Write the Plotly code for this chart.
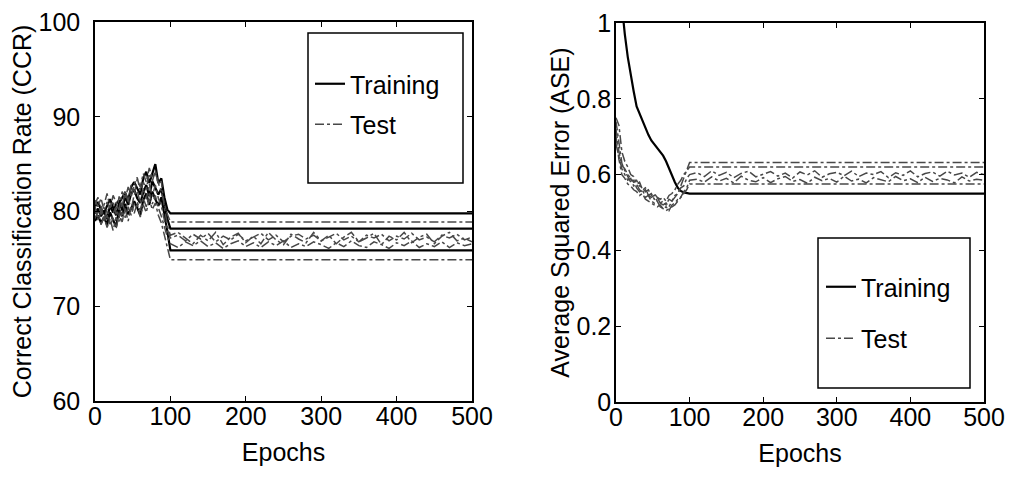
import plotly.graph_objects as go

# ---------------- data ----------------
epochs_early = list(range(0, 101, 4))      # 0..100
epochs_late = list(range(110, 501, 10))    # 110..500
epochs = epochs_early + epochs_late
n_late = len(epochs_late)

# Correct Classification Rate (CCR) - training runs
ccr_train_1_early = [80.5, 81.0, 80.2, 79.8, 80.6, 81.3, 80.4, 79.6, 80.9, 81.5, 82.0, 81.2, 82.6,
                     83.1, 82.4, 81.8, 83.5, 84.2, 83.0, 84.0, 85.0, 83.0, 83.5, 81.5, 80.2, 79.8]
ccr_train_2_early = [79.8, 80.3, 79.5, 80.1, 79.2, 80.6, 79.9, 80.8, 81.2, 80.1, 81.6, 80.7, 81.9,
                     82.3, 81.4, 80.9, 82.0, 82.8, 81.6, 83.2, 82.5, 81.8, 82.4, 80.9, 79.2, 78.2]
ccr_train_3_early = [79.0, 79.6, 78.8, 79.4, 78.6, 79.9, 79.1, 78.4, 80.2, 79.5, 80.8, 79.7, 80.3,
                     81.1, 80.4, 79.6, 81.2, 81.9, 80.7, 82.1, 81.3, 80.6, 81.5, 79.8, 77.9, 75.9]
ccr_train_levels = [79.8, 78.2, 75.9]

# CCR - test runs
ccr_test_1_early = [81.2, 80.5, 81.4, 80.1, 81.0, 80.3, 81.7, 80.9, 80.2, 82.1, 81.3, 82.6, 81.5,
                    82.9, 83.6, 82.2, 83.1, 82.4, 84.0, 83.2, 84.3, 83.0, 82.1, 80.8, 79.7, 78.9]
ccr_test_2_early = [80.1, 79.4, 80.6, 79.1, 80.3, 78.7, 79.8, 80.5, 79.3, 80.9, 80.0, 81.4, 80.2,
                    81.8, 82.2, 80.9, 82.5, 81.3, 82.9, 81.6, 82.8, 81.4, 80.6, 79.1, 78.0, 77.2]
ccr_test_3_early = [79.3, 80.0, 78.6, 79.5, 78.3, 79.2, 78.0, 79.4, 78.8, 79.9, 79.2, 80.5, 79.6,
                    80.8, 81.0, 80.1, 81.4, 80.5, 81.9, 80.8, 81.7, 80.4, 79.5, 78.3, 77.3, 76.6]
ccr_test_4_early = [80.6, 79.1, 80.0, 78.9, 79.6, 78.5, 79.3, 78.2, 79.7, 78.9, 80.3, 79.0, 80.6,
                    79.8, 80.9, 79.4, 80.7, 79.9, 81.3, 80.2, 80.9, 79.6, 78.8, 77.5, 76.0, 74.9]
ccr_test_5_early = [80.8, 81.5, 79.9, 80.7, 81.9, 80.4, 81.1, 79.7, 81.6, 80.5, 82.2, 81.0, 82.8,
                    81.9, 83.4, 82.6, 84.0, 83.1, 84.6, 83.5, 84.1, 82.9, 83.2, 80.4, 78.5, 77.5]
ccr_test_1_level = 78.9
ccr_test_4_level = 74.9
ccr_test_2_late = [77.5, 76.9, 77.6, 77.1, 77.7, 76.8, 77.4, 77.0, 77.6, 76.9,
                   77.3, 77.7, 77.0, 77.5, 76.8, 77.4, 77.6, 77.1, 77.5, 76.9,
                   77.3, 77.7, 77.0, 77.4, 76.8, 77.5, 77.2, 77.6, 76.9, 77.4,
                   77.1, 77.7, 77.0, 77.3, 76.8, 77.5, 77.2, 77.6, 77.0, 77.3]
ccr_test_3_late = [76.2, 76.8, 76.4, 76.9, 76.3, 76.7, 76.1, 76.6, 76.9, 76.3,
                   76.7, 76.2, 76.8, 76.4, 76.9, 76.2, 76.6, 76.3, 76.8, 76.5,
                   76.1, 76.7, 76.3, 76.9, 76.4, 76.2, 76.8, 76.5, 76.1, 76.7,
                   76.4, 76.9, 76.2, 76.6, 76.3, 76.8, 76.2, 76.7, 76.4, 76.6]
ccr_test_5_late = [77.8, 77.2, 76.6, 77.5, 76.9, 77.8, 76.5, 77.3, 77.7, 76.7,
                   77.4, 76.6, 77.8, 77.0, 76.5, 77.6, 77.1, 76.7, 77.8, 76.9,
                   77.5, 76.6, 77.3, 77.8, 76.8, 77.2, 77.7, 76.5, 77.4, 77.0,
                   77.8, 76.7, 77.3, 77.6, 76.6, 77.4, 77.8, 76.9, 77.2, 76.8]

# Average Squared Error (ASE) - training
ase_train_early = [1.20, 1.12, 1.04, 0.97, 0.91, 0.86, 0.82, 0.78, 0.76, 0.74, 0.72, 0.705, 0.69,
                   0.68, 0.67, 0.66, 0.65, 0.635, 0.615, 0.595, 0.58, 0.565, 0.557, 0.553, 0.551, 0.55]
ase_train_level = 0.55

# ASE - test runs
ase_test_a_early = [0.75, 0.73, 0.66, 0.635, 0.62, 0.60, 0.595, 0.575, 0.58, 0.56, 0.565, 0.545, 0.55,
                    0.535, 0.54, 0.525, 0.53, 0.52, 0.535, 0.53, 0.545, 0.55, 0.565, 0.57, 0.59, 0.60]
ase_test_b_early = [0.74, 0.69, 0.63, 0.61, 0.595, 0.58, 0.585, 0.565, 0.555, 0.56, 0.54, 0.545, 0.53,
                    0.525, 0.53, 0.515, 0.51, 0.515, 0.505, 0.52, 0.525, 0.535, 0.54, 0.555, 0.565, 0.585]
ase_test_c_early = [0.72, 0.66, 0.625, 0.615, 0.60, 0.59, 0.58, 0.585, 0.57, 0.565, 0.555, 0.56, 0.545,
                    0.55, 0.54, 0.535, 0.54, 0.53, 0.545, 0.55, 0.56, 0.575, 0.585, 0.60, 0.61, 0.62]
ase_test_d_early = [0.70, 0.64, 0.60, 0.59, 0.575, 0.57, 0.56, 0.555, 0.545, 0.55, 0.535, 0.53, 0.525,
                    0.52, 0.515, 0.52, 0.51, 0.505, 0.51, 0.515, 0.52, 0.53, 0.54, 0.55, 0.56, 0.575]
ase_test_e_early = [0.68, 0.645, 0.615, 0.60, 0.585, 0.59, 0.57, 0.575, 0.56, 0.555, 0.56, 0.545, 0.54,
                    0.545, 0.53, 0.525, 0.52, 0.525, 0.515, 0.53, 0.54, 0.55, 0.57, 0.59, 0.61, 0.632]
ase_test_c_level = 0.62
ase_test_d_level = 0.575
ase_test_e_level = 0.632
ase_test_a_late = [0.605, 0.595, 0.610, 0.598, 0.606, 0.592, 0.603, 0.609, 0.594, 0.601,
                   0.608, 0.596, 0.604, 0.591, 0.607, 0.599, 0.610, 0.593, 0.602, 0.606,
                   0.597, 0.609, 0.595, 0.604, 0.600, 0.608, 0.592, 0.605, 0.598, 0.610,
                   0.594, 0.603, 0.607, 0.596, 0.609, 0.599, 0.604, 0.593, 0.606, 0.600]
ase_test_b_late = [0.588, 0.580, 0.594, 0.583, 0.590, 0.578, 0.596, 0.585, 0.581, 0.592,
                   0.579, 0.589, 0.595, 0.582, 0.587, 0.577, 0.593, 0.584, 0.590, 0.580,
                   0.596, 0.583, 0.588, 0.578, 0.592, 0.586, 0.581, 0.595, 0.584, 0.589,
                   0.579, 0.593, 0.582, 0.590, 0.586, 0.578, 0.594, 0.583, 0.588, 0.585]

x_ticks = [0, 100, 200, 300, 400, 500]
ccr_ticks = [60, 70, 80, 90, 100]
ase_ticks = [0, 0.2, 0.4, 0.6, 0.8, 1]
ase_tick_text = ["0", "0.2", "0.4", "0.6", "0.8", "1"]

# ---------------- figure ----------------
# the page body has an 8px margin, so the figure is sized to fit the window
OFF = 8
W, H = 1015 - 2 * OFF, 478 - 2 * OFF
FONT = "Liberation Sans, Arial, Helvetica, sans-serif"
FS = 25
TRAIN_STYLE = dict(color="black", width=2.2)
TEST_STYLE = dict(color="#484848", width=1.5, dash="dashdot")


def px(x):
    return (x - OFF) / W


def py(y):
    return 1 - (y - OFF) / H


def full(early, late):
    if isinstance(late, (int, float)):
        late = [late] * n_late
    return list(early) + list(late)


fig = go.Figure()


def add(y, kind, xa, ya, legend, show):
    style = TRAIN_STYLE if kind == "Training" else TEST_STYLE
    fig.add_trace(go.Scatter(
        x=epochs, y=y, mode="lines", line=style, name=kind,
        legendgroup=kind + legend, showlegend=show, legend=legend,
        xaxis=xa, yaxis=ya, hoverinfo="skip"))


# left panel
add(full(ccr_train_1_early, ccr_train_levels[0]), "Training", "x", "y", "legend", True)
add(full(ccr_train_2_early, ccr_train_levels[1]), "Training", "x", "y", "legend", False)
add(full(ccr_train_3_early, ccr_train_levels[2]), "Training", "x", "y", "legend", False)
add(full(ccr_test_1_early, ccr_test_1_level), "Test", "x", "y", "legend", True)
add(full(ccr_test_2_early, ccr_test_2_late), "Test", "x", "y", "legend", False)
add(full(ccr_test_3_early, ccr_test_3_late), "Test", "x", "y", "legend", False)
add(full(ccr_test_4_early, ccr_test_4_level), "Test", "x", "y", "legend", False)
add(full(ccr_test_5_early, ccr_test_5_late), "Test", "x", "y", "legend", False)

# right panel
add(full(ase_train_early, ase_train_level), "Training", "x2", "y2", "legend2", True)
add(full(ase_test_a_early, ase_test_a_late), "Test", "x2", "y2", "legend2", True)
add(full(ase_test_b_early, ase_test_b_late), "Test", "x2", "y2", "legend2", False)
add(full(ase_test_c_early, ase_test_c_level), "Test", "x2", "y2", "legend2", False)
add(full(ase_test_d_early, ase_test_d_level), "Test", "x2", "y2", "legend2", False)
add(full(ase_test_e_early, ase_test_e_level), "Test", "x2", "y2", "legend2", False)

axis_common = dict(
    showline=True, linecolor="black", linewidth=1.5, mirror="ticks",
    ticks="inside", ticklen=5, tickwidth=1.3, tickcolor="black",
    showgrid=False, zeroline=False, automargin=False, ticklabeloverflow="allow",
    tickfont=dict(family=FONT, size=FS, color="black"),
    title_font=dict(family=FONT, size=FS, color="black"),
)

fig.update_layout(
    width=W, height=H,
    margin=dict(l=0, r=0, t=0, b=0, autoexpand=False),
    paper_bgcolor="white", plot_bgcolor="white",
    font=dict(family=FONT, size=FS, color="black"),
    xaxis=dict(domain=[px(95), px(472)], range=[0, 500], tickvals=x_ticks,
               title=dict(text="Epochs", standoff=15), ticklabelstandoff=-8,
               anchor="y", **axis_common),
    yaxis=dict(domain=[py(401), py(22)], range=[60, 100], tickvals=ccr_ticks,
               title=dict(text="Correct Classification Rate (CCR)", standoff=1),
               ticklabelstandoff=8, anchor="x", **axis_common),
    xaxis2=dict(domain=[px(616), px(984)], range=[0, 500], tickvals=x_ticks,
                title=dict(text="Epochs", standoff=15), ticklabelstandoff=-8,
                anchor="y2", **axis_common),
    yaxis2=dict(domain=[py(402), py(23)], range=[0, 1], tickvals=ase_ticks,
                ticktext=ase_tick_text,
                title=dict(text="Average Squared Error (ASE)", standoff=0),
                ticklabelstandoff=-2, anchor="x2", **axis_common),
    legend=dict(x=px(310), y=py(61), xanchor="left", yanchor="top",
                bgcolor="rgba(0,0,0,0)", borderwidth=0, tracegroupgap=5,
                font=dict(family=FONT, size=FS, color="black"), itemwidth=30),
    legend2=dict(x=px(821), y=py(264), xanchor="left", yanchor="top",
                 bgcolor="rgba(0,0,0,0)", borderwidth=0, tracegroupgap=16,
                 font=dict(family=FONT, size=FS, color="black"), itemwidth=30),
    shapes=[
        dict(type="rect", xref="paper", yref="paper",
             x0=px(308), x1=px(463), y0=py(183), y1=py(33),
             line=dict(color="black", width=1.5), fillcolor="white", layer="above"),
        dict(type="rect", xref="paper", yref="paper",
             x0=px(818), x1=px(970), y0=py(388), y1=py(238),
             line=dict(color="black", width=1.5), fillcolor="white", layer="above"),
    ],
)

fig.write_html("out.html")
